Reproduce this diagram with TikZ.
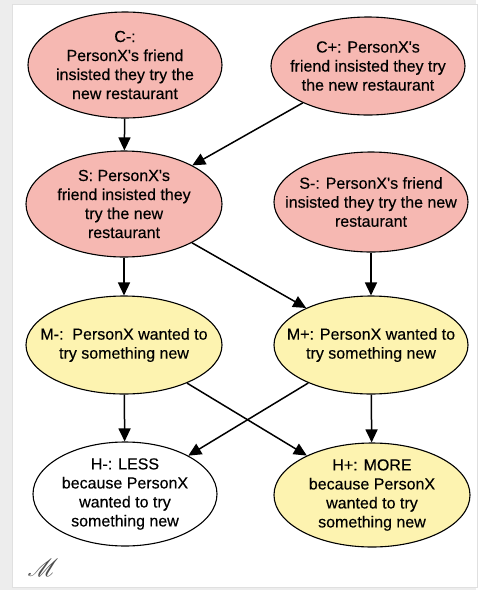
\documentclass[tikz,border=0pt]{standalone}
\usepackage{fontspec}
\setmainfont{Liberation Sans}
\newfontfamily\txtfont{Liberation Sans}[FakeBold=0.3]
\usepackage{mathrsfs}
\usetikzlibrary{shapes.geometric,arrows.meta}
\definecolor{pinkfill}{HTML}{F6B8B2}
\definecolor{yellowfill}{HTML}{FDF3B0}
\definecolor{framegray}{HTML}{EDEDED}
\begin{document}
\begin{tikzpicture}[x=1pt,y=-1pt,
  ell/.style={ellipse,draw=black,line width=1.1pt,inner sep=0pt},
  txt/.style={align=center,inner sep=0pt,font=\txtfont\fontsize{16}{19}\selectfont},
  pinkell/.style={ell,fill=pinkfill},
  yellowell/.style={ell,fill=yellowfill},
  whiteell/.style={ell,fill=white},
  conn/.style={line width=1.5pt,-{Triangle[length=13pt,width=12pt]}}]
\fill[framegray] (0,0) rectangle (476,590);
\fill[white,draw=black!12] (12,4) rectangle (477,587);
\useasboundingbox (0,0) rectangle (476,590);

\node[pinkell,minimum width=194pt,minimum height=106pt,
  label={[txt]center:{C-:\\PersonX's friend\\insisted they try the\\new restaurant}}] (cm) at (125,65) {};
\node[pinkell,minimum width=194pt,minimum height=98pt,
  label={[txt]center:{C+: PersonX's\\friend insisted they try\\the new restaurant}}] (cp) at (368,66) {};
\node[pinkell,minimum width=196pt,minimum height=106pt,
  label={[txt]center:{S: PersonX's\\friend insisted they\\try the new\\restaurant}}] (s) at (124,204) {};
\node[pinkell,minimum width=194pt,minimum height=100pt,
  label={[txt]center:{S-: PersonX's friend\\insisted they try the new\\restaurant}}] (sm) at (371,202) {};
\node[yellowell,minimum width=196pt,minimum height=98pt,
  label={[txt]center:{M-:\ \ PersonX wanted to\\try something new}}] (mm) at (124,345) {};
\node[yellowell,minimum width=194pt,minimum height=98pt,
  label={[txt]center:{M+: PersonX wanted to\\try something new}}] (mp) at (371,345) {};
\node[whiteell,minimum width=184pt,minimum height=104pt,
  label={[txt]center:{H-: LESS\\because PersonX\\wanted to try\\something new}}] (hm) at (125,494) {};
\node[yellowell,minimum width=196pt,minimum height=104pt,
  label={[txt]center:{H+: MORE\\because PersonX\\wanted to try\\something new}}] (hp) at (372,495) {};

\draw[conn] (cm) -- (s);
\draw[conn] (cp) -- (s);
\draw[conn] (s) -- (mm);
\draw[conn] (s) -- (mp);
\draw[conn] (sm) -- (mp);
\draw[conn] (mm) -- (hm);
\draw[conn] (mm) -- (hp);
\draw[conn] (mp) -- (hm);
\draw[conn] (mp) -- (hp);

\node[text=black!70,font=\fontsize{30}{32}\selectfont] (logo) at (43,568) {$\mathscr{M}$};
\end{tikzpicture}
\end{document}
